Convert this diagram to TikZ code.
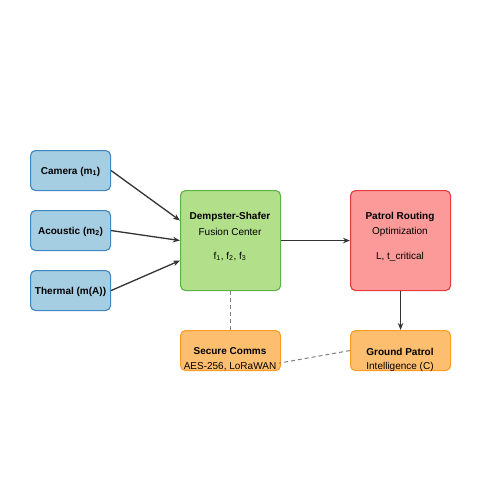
\documentclass[tikz,border=0pt]{standalone}
\usepackage{fontspec}
\setmainfont{Liberation Sans}
\usetikzlibrary{arrows.meta,calc}
\definecolor{bfill}{HTML}{A6CEE3}\definecolor{bdraw}{HTML}{3C88C2}
\definecolor{gfill}{HTML}{B2DF8A}\definecolor{gdraw}{HTML}{5CB247}
\definecolor{rfill}{HTML}{FB9A99}\definecolor{rdraw}{HTML}{E6393C}
\definecolor{ofill}{HTML}{FDBF6F}\definecolor{odraw}{HTML}{FF9C24}
\definecolor{lc}{HTML}{333333}
\begin{document}
\begin{tikzpicture}[x=1pt,y=-1pt,
  box/.style={draw, line width=1.1pt, rounded corners=5pt, inner sep=0pt, anchor=north west},
  sens/.style={box, fill=bfill, draw=bdraw, minimum width=80pt, minimum height=40pt},
  big/.style={box, minimum width=100pt, minimum height=100pt},
  small/.style={box, fill=ofill, draw=odraw, minimum width=100pt, minimum height=40pt},
  txt/.style={font=\fontsize{10}{12}\selectfont, text=black, inner sep=0pt},
  btxt/.style={txt, font=\fontsize{10}{12}\selectfont\bfseries},
  arr/.style={draw=lc, line width=1.3pt, -{Stealth[length=7pt,width=5.5pt]}},
  dsh/.style={draw=gray, line width=1pt, dash pattern=on 4pt off 3pt}]
\useasboundingbox (0,0) rectangle (500,500);
\node[sens] (cam) at (30,150) {};
\node[sens] (aco) at (30,210) {};
\node[sens] (the) at (30,270) {};
\node[btxt] at ($(cam.center)+(0,1)$) {Camera (m\textsubscript{1})};
\node[btxt] at ($(aco.center)+(0,1)$) {Acoustic (m\textsubscript{2})};
\node[btxt] at ($(the.center)+(0,1)$) {Thermal (m(A))};
\node[big, fill=gfill, draw=gdraw] (ds) at (180,190) {};
\node[btxt] at (230,216.5) {Dempster-Shafer};
\node[txt] at (230,231.5) {Fusion Center};
\node[txt] at (230,256.5) {f\textsubscript{1}, f\textsubscript{2}, f\textsubscript{3}};
\node[big, fill=rfill, draw=rdraw] (pr) at (350,190) {};
\node[btxt] at (400,216.5) {Patrol Routing};
\node[txt] at (400,231.5) {Optimization};
\node[txt] at (400,256.5) {L, t\_critical};
\node[small] (sc) at (180,330) {};
\node[small] (gp) at (350,330) {};
\draw[arr] (cam.east) -- ($(ds.west)+(0,-20)$);
\draw[arr] (aco.east) -- ($(ds.west)+(0,0)$);
\draw[arr] (the.east) -- ($(ds.west)+(0,20)$);
\draw[arr] (ds.east) -- (pr.west);
\draw[arr] (pr.south) -- (gp.north);
\draw[dsh] (ds.south) -- (sc.north);
\draw[dsh] (gp.west) -- ($(sc.south east)+(-2,-8)$);
\node[btxt] at (230,351.5) {Secure Comms};
\node[txt] at (230,366.5) {AES-256, LoRaWAN};
\node[btxt] at (400,351.5) {Ground Patrol};
\node[txt] at (400,366.5) {Intelligence (C)};
\end{tikzpicture}
\end{document}
